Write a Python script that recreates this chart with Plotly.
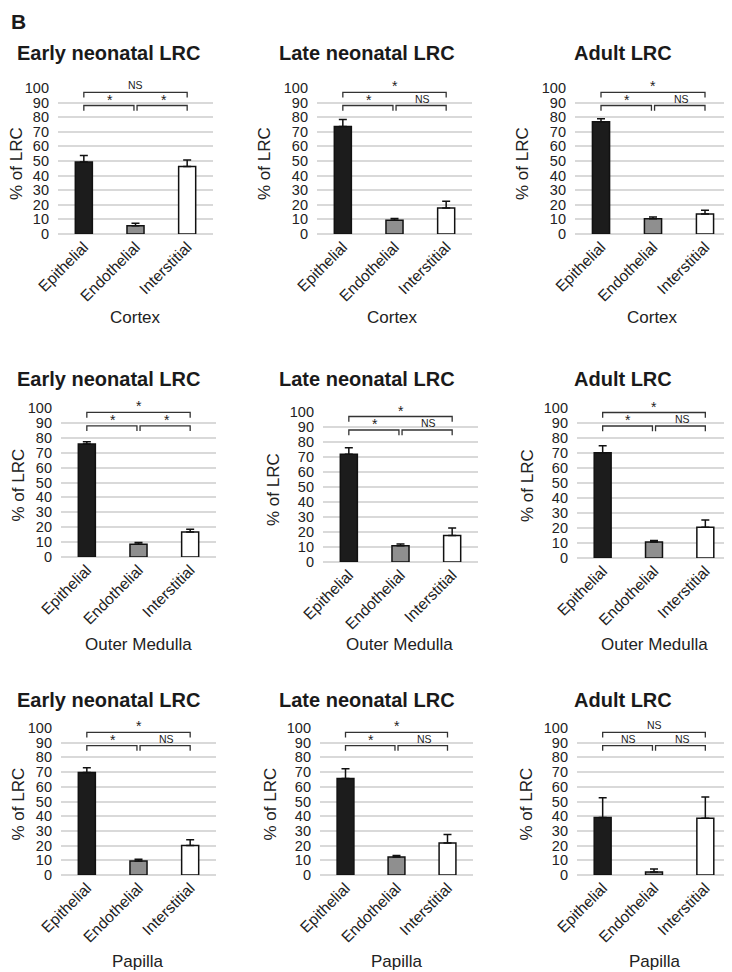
import plotly.graph_objects as go

# ---------------- data ----------------
categories = ["Epithelial", "Endothelial", "Interstitial"]
stage_titles = ["Early neonatal LRC", "Late neonatal LRC", "Adult LRC"]
regions = ["Cortex", "Outer Medulla", "Papilla"]

cortex_means = [[49.3, 5.7, 46.3], [73.7, 9.4, 17.8], [76.9, 10.5, 13.7]]
cortex_err = [[4.5, 1.6, 4.4], [4.8, 1.3, 4.6], [2.1, 1.1, 2.5]]
medulla_means = [[75.8, 8.5, 16.8], [71.8, 10.9, 17.6], [70.1, 10.7, 20.5]]
medulla_err = [[1.6, 1.3, 1.8], [4.4, 1.1, 5.1], [4.7, 0.9, 4.9]]
papilla_means = [[69.8, 9.5, 20.0], [65.7, 12.3, 21.8], [39.1, 2.0, 38.6]]
papilla_err = [[3.2, 1.2, 3.9], [6.6, 0.9, 5.7], [13.4, 2.1, 14.4]]

# significance labels: (outer Epi-Inter, inner Epi-Endo, inner Endo-Inter)
cortex_sig = [["NS", "*", "*"], ["*", "*", "NS"], ["*", "*", "NS"]]
medulla_sig = [["*", "*", "*"], ["*", "*", "NS"], ["*", "*", "NS"]]
papilla_sig = [["*", "*", "NS"], ["*", "*", "NS"], ["NS", "NS", "NS"]]

y_ticks = [0, 10, 20, 30, 40, 50, 60, 70, 80, 90, 100]

all_means = [cortex_means, medulla_means, papilla_means]
all_err = [cortex_err, medulla_err, papilla_err]
all_sig = [cortex_sig, medulla_sig, papilla_sig]

# ---------------- layout geometry (window pixels) ----------------
OFF = 8                      # default page body margin
W, H = 732 - OFF, 972 - OFF  # figure size that fits the window
# plot boxes: (x0, x1, ytop(100), ybottom(0))
boxes = [
    [(58, 213, 88, 234), (317, 472, 88, 234), (575, 731, 88, 234)],
    [(61, 216, 408, 557), (323, 478, 412, 562), (577, 731, 408, 558)],
    [(61, 216, 728, 875), (320, 473, 728, 875), (577, 731, 728, 875)],
]
title_y = [53, 379, 700]
title_x = [108, 367, 623]
xtitle_y = [318, 644, 961]
xtitle_x = [[135, 393, 652], [138, 400, 654], [138, 397, 655]]
ytitle_x = [[17, 265, 523], [18, 273, 527], [18, 270, 526]]

FONT = "Liberation Sans, Arial, sans-serif"
bar_colors = ["#1c1c1c", "#8f8f8f", "#ffffff"]
grid_col = "#d9d9d9"
ink = "#222222"

def px(x):
    return (x - OFF) / W

def py(y):
    return 1 - (y - OFF) / H

fig = go.Figure()
layout = dict(
    width=W, height=H, margin=dict(l=0, r=0, t=0, b=0, autoexpand=False),
    paper_bgcolor="white", plot_bgcolor="white", showlegend=False,
    font=dict(family=FONT, color=ink),
)
annotations = []
shapes = []

idx = 0
for r in range(3):
    for c in range(3):
        idx += 1
        xa = "x" if idx == 1 else f"x{idx}"
        ya = "y" if idx == 1 else f"y{idx}"
        x0, x1, yt, yb = boxes[r][c]
        means = all_means[r][c]
        errs = all_err[r][c]
        fig.add_trace(go.Bar(
            x=categories, y=means, xaxis=xa, yaxis=ya, width=0.33,
            marker=dict(color=bar_colors, line=dict(color="#111111", width=1.5)),
            error_y=dict(type="data", symmetric=False, array=errs,
                         arrayminus=[0, 0, 0], color="#111111",
                         thickness=1.5, width=4),
            hoverinfo="skip",
        ))
        layout["xaxis" + ("" if idx == 1 else str(idx))] = dict(
            domain=[px(x0), min(px(x1), 1.0)], anchor=ya, type="category",
            range=[-0.5, 2.5], showgrid=False, showline=False, automargin=False,
            tickangle=-45, tickfont=dict(family=FONT, size=15.5, color=ink),
            ticks="", zeroline=False,
        )
        layout["yaxis" + ("" if idx == 1 else str(idx))] = dict(
            domain=[py(yb), py(yt)], anchor=xa, range=[0, 100], automargin=False,
            tickvals=y_ticks, showgrid=True, gridcolor=grid_col, gridwidth=1.5,
            zeroline=True, zerolinecolor=grid_col, zerolinewidth=1.5,
            showline=False, ticks="", ticklabelstandoff=8,
            tickfont=dict(family=FONT, size=14.5, color=ink),
        )
        # brackets
        sig = all_sig[r][c]
        outer_y, inner_y, drop = 97, 88, 3.5
        segs = [(0.0, 2.0, outer_y, sig[0], 1.0),
                (0.0, 0.97, inner_y, sig[1], 0.5),
                (1.03, 2.0, inner_y, sig[2], 1.55)]
        for (a, b, yy, lab, lx) in segs:
            path = f"M {a},{yy - drop} L {a},{yy} L {b},{yy} L {b},{yy - drop}"
            shapes.append(dict(type="path", path=path, xref=xa, yref=ya,
                               line=dict(color="#333333", width=1.3)))
            is_star = lab == "*"
            annotations.append(dict(
                x=lx, y=yy, xref=xa, yref=ya, text=lab, showarrow=False,
                yanchor="bottom", yshift=-4 if is_star else -1,
                font=dict(family=FONT, size=14 if is_star else 10.5, color="#222222"),
            ))
        # panel title
        annotations.append(dict(
            x=px(title_x[c]), y=py(title_y[r]), xref="paper", yref="paper",
            text=f"<b>{stage_titles[c]}</b>", showarrow=False,
            xanchor="center", yanchor="middle",
            font=dict(family=FONT, size=20, color="#1a1a1a"),
        ))
        # x title
        annotations.append(dict(
            x=px(xtitle_x[r][c]), y=py(xtitle_y[r]), xref="paper", yref="paper",
            text=regions[r], showarrow=False, xanchor="center", yanchor="middle",
            font=dict(family=FONT, size=17, color=ink),
        ))
        # y title
        annotations.append(dict(
            x=px(ytitle_x[r][c]), y=py((yt + yb) / 2 + 3), xref="paper", yref="paper",
            text="% of LRC", showarrow=False, textangle=-90,
            xanchor="center", yanchor="middle",
            font=dict(family=FONT, size=17, color=ink),
        ))

annotations.append(dict(
    x=px(OFF + 1), y=1.0, xref="paper", yref="paper", text="<b>B</b>",
    showarrow=False, xanchor="left", yanchor="top",
    font=dict(family=FONT, size=21, color="#1a1a1a"),
))

layout["annotations"] = annotations
layout["shapes"] = shapes
fig.update_layout(**layout)
fig.write_html("out.html")
